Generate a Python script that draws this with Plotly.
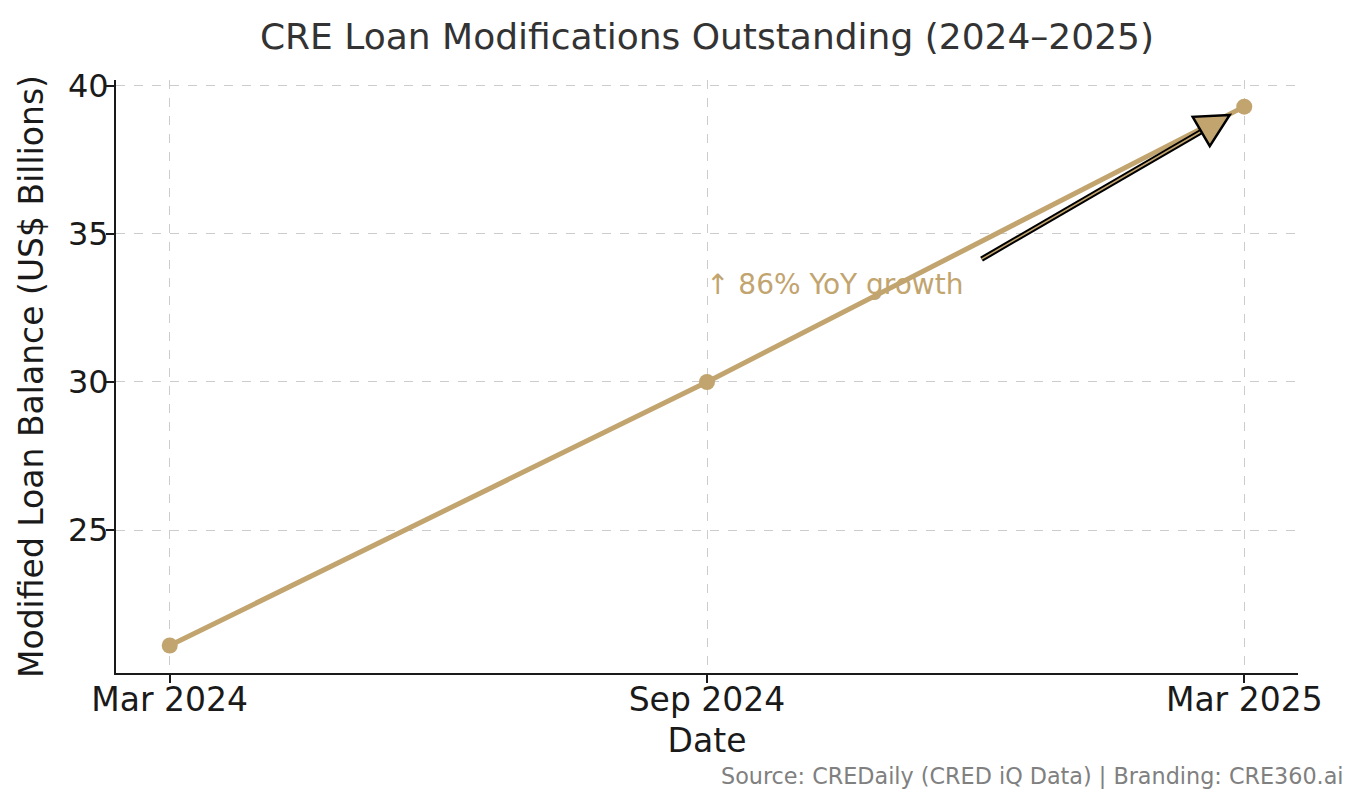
import plotly.graph_objects as go

# Data
dates = ["Mar 2024", "Sep 2024", "Mar 2025"]
balance_bn = [21.1, 30.0, 39.3]

title_text = "CRE Loan Modifications Outstanding (2024\u20132025)"
note_text = "\u2191 86% YoY growth"
source_text = "Source: CREDaily (CRED iQ Data) | Branding: CRE360.ai"

gold = "#C2A46F"
font_family = "DejaVu Sans, Verdana, sans-serif"

# layout geometry (page adds ~8px margin, so figure is a bit smaller)
fig_w, fig_h = 1355, 799
m_l, m_r, m_t, m_b = 108, 65, 72, 134
x_range = [-0.1, 2.1]
y_range = [20.17, 40.2]
px_x = (fig_w - m_l - m_r) / (x_range[1] - x_range[0])
px_y = (fig_h - m_t - m_b) / (y_range[1] - y_range[0])

fig = go.Figure(
    go.Scatter(
        x=dates,
        y=balance_bn,
        mode="lines+markers",
        line=dict(color=gold, width=5),
        marker=dict(color=gold, size=16),
        showlegend=False,
    )
)

fig.add_annotation(
    x=0.995, y=33.3, xref="x", yref="y", text=note_text, showarrow=False,
    xanchor="left", yanchor="middle",
    font=dict(family=font_family, size=28, color=gold),
)

# arrow: black-outlined shaft and gold triangular head
arrow_tail = (1.511, 34.15)
arrow_tip = (1.973, 39.02)
dx_px = (arrow_tip[0] - arrow_tail[0]) * px_x
dy_px = (arrow_tip[1] - arrow_tail[1]) * px_y
length = (dx_px ** 2 + dy_px ** 2) ** 0.5
ux, uy = dx_px / length, dy_px / length
head_len, head_half = 33, 17


def offset(pt, ox, oy):
    return (pt[0] + ox / px_x, pt[1] + oy / px_y)


base_mid = offset(arrow_tip, -head_len * ux, -head_len * uy)
base_a = offset(base_mid, -head_half * uy, head_half * ux)
base_b = offset(base_mid, head_half * uy, -head_half * ux)
for colour, width in [("black", 5.5), (gold, 1.5)]:
    fig.add_shape(
        type="line", xref="x", yref="y",
        x0=arrow_tail[0], y0=arrow_tail[1], x1=base_mid[0], y1=base_mid[1],
        line=dict(color=colour, width=width),
    )
head_path = "M {} {} L {} {} L {} {} Z".format(
    arrow_tip[0], arrow_tip[1], base_a[0], base_a[1], base_b[0], base_b[1])
fig.add_shape(
    type="path", xref="x", yref="y", path=head_path,
    fillcolor=gold, line=dict(color="black", width=2.5),
)

fig.add_annotation(
    x=1.0406, y=-0.174, xref="paper", yref="paper", text=source_text,
    showarrow=False, xanchor="right", yanchor="middle",
    font=dict(family=font_family, size=22.3, color="#808080"),
)

fig.update_layout(
    width=fig_w,
    height=fig_h,
    margin=dict(l=m_l, r=m_r, t=m_t, b=m_b),
    paper_bgcolor="white",
    plot_bgcolor="white",
    font=dict(family=font_family, color="#1a1a1a"),
    title=dict(
        text=title_text, x=0.5, xref="paper", y=1 - 28 / fig_h, yref="container",
        yanchor="middle", font=dict(size=36, color="#333333"),
    ),
)

fig.update_xaxes(
    type="category",
    range=x_range,
    title=dict(text="Date", font=dict(size=33), standoff=11),
    tickfont=dict(size=33),
    ticklabelstandoff=-12,
    showline=True, linecolor="#1a1a1a", linewidth=2,
    ticks="outside", ticklen=8, tickwidth=2, tickcolor="#1a1a1a",
    showgrid=True, gridcolor="#cccccc", griddash="dash", gridwidth=1,
    zeroline=False,
)
fig.update_yaxes(
    range=y_range,
    tickvals=[25, 30, 35, 40],
    title=dict(text="Modified Loan Balance (US$ Billions)", font=dict(size=33), standoff=14),
    tickfont=dict(size=32),
    ticklabelstandoff=-9,
    showline=True, linecolor="#1a1a1a", linewidth=2,
    ticks="outside", ticklen=8, tickwidth=2, tickcolor="#1a1a1a",
    showgrid=True, gridcolor="#cccccc", griddash="dash", gridwidth=1,
    zeroline=False,
)

fig.write_html("out.html")
